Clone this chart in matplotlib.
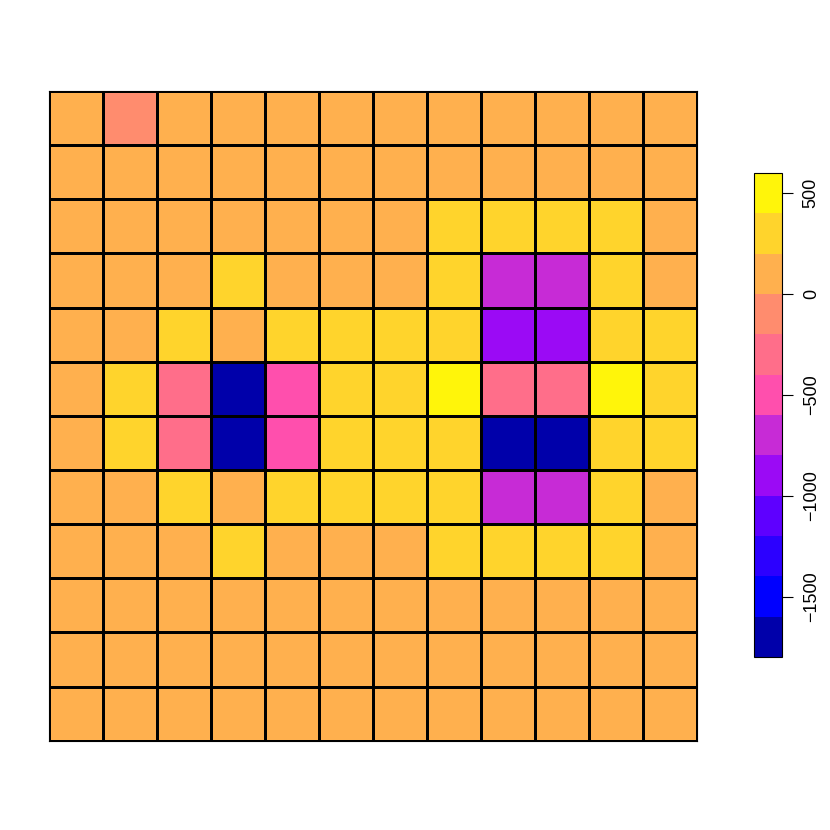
import numpy as np
import matplotlib
matplotlib.use("Agg")
import matplotlib.pyplot as plt
from matplotlib.colors import ListedColormap, BoundaryNorm

plt.rcParams["font.family"] = ["Liberation Sans", "DejaVu Sans"]

# Bin boundaries and palette of the colour key
levels = [-1800, -1600, -1400, -1200, -1000, -800, -600, -400, -200, 0, 200, 400, 600]
palette = ["#0000AA", "#0000FF", "#2C00FF", "#5E00FF", "#9B0AF5", "#C72BD6",
           "#FF4FAD", "#FF6E8A", "#FF8C6E", "#FFB04E", "#FFD42C", "#FFF50A"]
cbar_ticks = [-1500, -1000, -500, 0, 500]

# Cell values, rows listed top to bottom
row01 = [100, -100, 100, 100, 100, 100, 100, 100, 100, 100, 100, 100]
row02 = [100, 100, 100, 100, 100, 100, 100, 100, 100, 100, 100, 100]
row03 = [100, 100, 100, 100, 100, 100, 100, 300, 300, 300, 300, 100]
row04 = [100, 100, 100, 300, 100, 100, 100, 300, -700, -700, 300, 100]
row05 = [100, 100, 300, 100, 300, 300, 300, 300, -900, -900, 300, 300]
row06 = [100, 300, -300, -1700, -500, 300, 300, 500, -300, -300, 500, 300]
row07 = [100, 300, -300, -1700, -500, 300, 300, 300, -1700, -1700, 300, 300]
row08 = [100, 100, 300, 100, 300, 300, 300, 300, -700, -700, 300, 100]
row09 = [100, 100, 100, 300, 100, 100, 100, 300, 300, 300, 300, 100]
row10 = [100, 100, 100, 100, 100, 100, 100, 100, 100, 100, 100, 100]
row11 = [100, 100, 100, 100, 100, 100, 100, 100, 100, 100, 100, 100]
row12 = [100, 100, 100, 100, 100, 100, 100, 100, 100, 100, 100, 100]

Z = np.array([row01, row02, row03, row04, row05, row06,
              row07, row08, row09, row10, row11, row12], dtype=float)

cmap = ListedColormap(palette)
norm = BoundaryNorm(levels, cmap.N)

fig = plt.figure(figsize=(8.3, 8.3), dpi=100)
ax = fig.add_axes([0.059, 0.1076, 0.7813, 0.7828])
nr, nc = Z.shape
mesh = ax.pcolormesh(np.arange(nc + 1), np.arange(nr + 1), Z[::-1], cmap=cmap, norm=norm,
                     edgecolors="black", linewidth=0.8)
ax.set_xlim(0, nc)
ax.set_ylim(0, nr)
ax.set_xticks([])
ax.set_yticks([])
for s in ax.spines.values():
    s.set_linewidth(0.8)

cax = fig.add_axes([0.9084, 0.2084, 0.0337, 0.583])
cb = fig.colorbar(mesh, cax=cax, ticks=cbar_ticks, drawedges=False)
cb.minorticks_off()
cb.outline.set_linewidth(0.8)
cax.tick_params(axis="y", which="major", length=8, width=0.8, labelsize=13, pad=7)
cax.set_yticklabels(["\u22121500", "\u22121000", "\u2212500", "0", "500"],
                    rotation=90, va="center")

fig.savefig("out.png", dpi=100)
